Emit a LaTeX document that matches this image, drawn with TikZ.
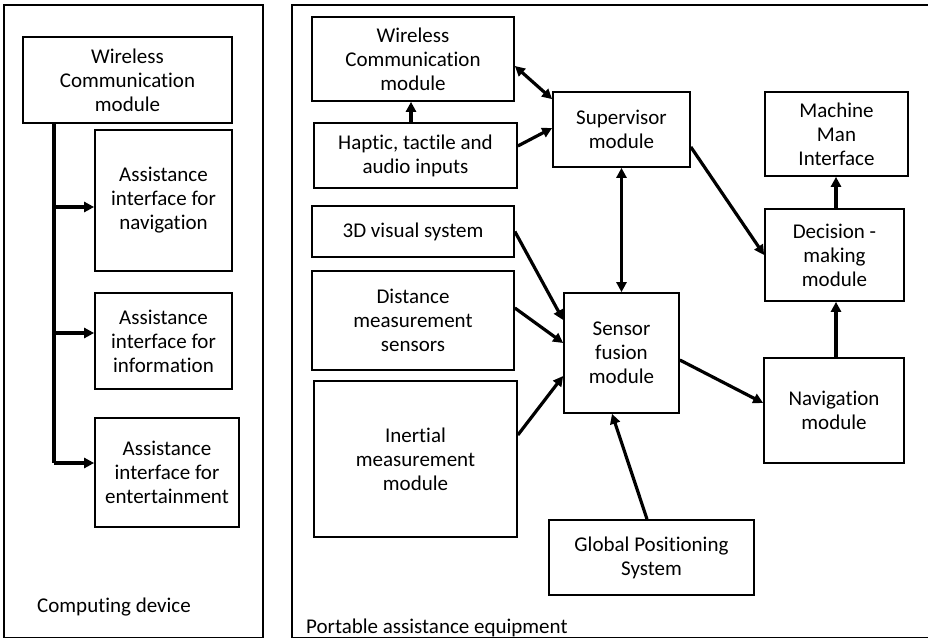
\documentclass[tikz,border=0pt]{standalone}
\usepackage{fontspec}
\setmainfont[Ligatures=NoCommon]{Carlito}
\usetikzlibrary{arrows.meta,calc}
\begin{document}
\begin{tikzpicture}[x=1pt,y=-1pt,
  box/.style={draw,line width=1.7pt,align=center,inner sep=0pt,
    font=\fontsize{21}{24}\selectfont},
  panel/.style={draw,line width=1.5pt},
  arr/.style={line width=3.2pt,-{Triangle[length=10pt,width=10pt]}},
  darr/.style={line width=3.2pt,{Triangle[length=10pt,width=10pt]}-{Triangle[length=10pt,width=10pt]}},
  trunk/.style={line width=3.2pt},
  lbl/.style={anchor=base west,inner sep=0pt,font=\fontsize{21}{24}\selectfont}]
\useasboundingbox[fill=white] (0,0) rectangle (928,639);
% panels
\draw[panel] (4,5) rectangle (263,637.5);
\draw[panel] (292,5) rectangle (940,637.5);
\node[lbl] (cd) at (37,612) {Computing device};
\node[lbl] (pae) at (306,633) {Portable assistance equipment};
% left panel boxes
\node[box,minimum width=209pt,minimum height=86pt] (wcL) at (127.5,80) {Wireless\\Communication\\module};
\node[box,minimum width=137pt,minimum height=141pt] (navL) at (163.5,200.5) {Assistance\\interface for\\navigation};
\node[box,minimum width=137pt,minimum height=96pt] (infL) at (163.5,341) {Assistance\\interface for\\information};
\node[box,minimum width=144pt,minimum height=109pt] (entL) at (167,472.5) {Assistance\\interface for\\entertainment};
\coordinate (tr) at (54,0);
\draw[trunk] (wcL.south -| tr) -- ([yshift=9.5pt]entL.west -| tr);
\draw[arr] ([yshift=-6.5pt]navL.west -| tr) -- ([yshift=-6.5pt]navL.west);
\draw[arr] ([yshift=8pt]infL.west -| tr) -- ([yshift=8pt]infL.west);
\draw[arr] ([yshift=9.5pt]entL.west -| tr) -- ([yshift=9.5pt]entL.west);
% right panel boxes
\node[box,minimum width=202pt,minimum height=84pt] (wcR) at (413,59) {Wireless\\Communication\\module};
\node[box,minimum width=203pt,minimum height=65pt] (hap) at (415.5,155.5) {Haptic, tactile and\\audio inputs};
\node[box,minimum width=202pt,minimum height=51pt] (v3d) at (413,231.5) {3D visual system};
\node[box,minimum width=202pt,minimum height=99pt] (dist) at (413,320.5) {Distance\\measurement\\sensors};
\node[box,minimum width=203pt,minimum height=156pt] (imu) at (415.5,459) {Inertial\\measurement\\module};
\node[box,minimum width=137pt,minimum height=75pt] (sup) at (621.5,129.5) {Supervisor\\module};
\node[box,minimum width=115pt,minimum height=120pt] (sf) at (621.5,353) {Sensor\\fusion\\module};
\node[box,minimum width=205pt,minimum height=75pt] (gps) at (651.5,557.5) {Global Positioning\\System};
\node[box,minimum width=143pt,minimum height=84pt] (mmi) at (836.5,134) {Machine\\Man\\Interface};
\node[box,minimum width=139pt,minimum height=92pt] (dec) at (834.5,255) {Decision -\\making\\module};
\node[box,minimum width=140pt,minimum height=105pt] (nav) at (834,410.5) {Navigation\\module};
% connectors
\draw[darr] ([yshift=-7pt]wcR.east) -- ([yshift=-8pt]sup.north west);
\draw[arr] ([xshift=-4.5pt]hap.north) -- ([xshift=-4.5pt]hap.north |- wcR.south);
\draw[arr] ([yshift=9.5pt]hap.east) -- ([yshift=1.5pt]sup.west);
\draw[darr] (sup.south) -- (sf.north);
\draw[arr] ([yshift=-17.5pt]sup.east) -- (dec.west);
\draw[arr] (v3d.east) -- ([yshift=33pt]sf.west);
\draw[arr] ([yshift=12.5pt]dist.east) -- ([yshift=10pt]sf.west);
\draw[arr] ([yshift=24pt]imu.east) -- ([yshift=-23pt]sf.west);
\draw[arr] ([xshift=-4.5pt]gps.north) -- ([xshift=-9.5pt]sf.south);
\draw[arr] ([yshift=-7pt]sf.east) -- ([yshift=7.5pt]nav.west);
\draw[arr] ([xshift=2pt]nav.north) -- ([xshift=2pt]nav.north |- dec.south);
\draw[arr] ([xshift=1.5pt]dec.north) -- ([xshift=1.5pt]dec.north |- mmi.south);
\end{tikzpicture}
\end{document}
